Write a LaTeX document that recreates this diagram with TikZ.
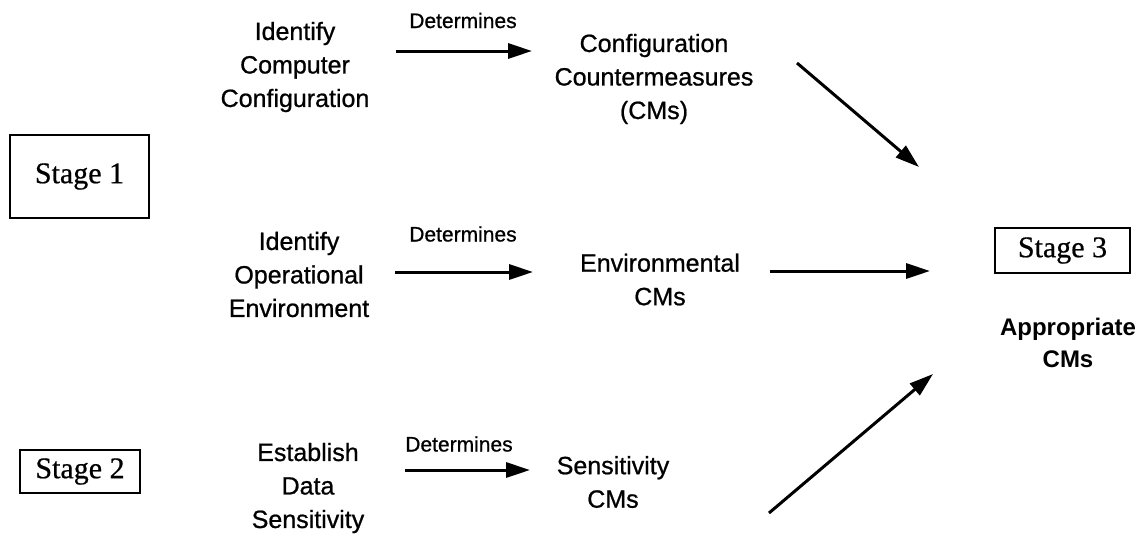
\documentclass[tikz,border=0pt]{standalone}
\usepackage{fontspec}
\setmainfont{Liberation Sans}
\newfontfamily\lblfont[FakeBold=0.8]{Liberation Sans}
\newfontfamily\stagefont[FakeBold=0.6]{Liberation Serif}
\usetikzlibrary{arrows.meta}

\begin{document}
\begin{tikzpicture}[x=1pt,y=-1pt,
  label/.style={align=center,inner sep=0pt,font=\lblfont\fontsize{25}{33.5}\selectfont},
  verb/.style={inner sep=0pt,font=\lblfont\fontsize{21}{25}\selectfont},
  stagebox/.style={draw,line width=2pt,inner sep=0pt,font=\stagefont\fontsize{30}{36}\selectfont},
  arr/.style={line width=3pt,-{Triangle[length=24pt,width=15pt]}}]

\useasboundingbox (0,0) rectangle (1145,533);

% stage boxes
\node[stagebox,minimum width=139pt,minimum height=83pt] (s1) at (79.5,176.5) {Stage 1};
\node[stagebox,minimum width=120pt,minimum height=43pt] (s2) at (80,471.5) {Stage 2};
\node[stagebox,minimum width=135pt,minimum height=45pt] (s3) at (1062.5,250.5) {Stage 3};

% activities
\node[label] (icc) at (295,67) {Identify\\Computer\\Configuration};
\node[label] (ioe) at (299,274.5) {Identify\\Operational\\Environment};
\node[label] (eds) at (308,488) {Establish\\Data\\Sensitivity};

% resulting countermeasures
\node[label] (ccm) at (654,79) {Configuration\\Countermeasures\\(CMs)};
\node[label] (ecm) at (660,279.5) {Environmental\\CMs};
\node[label] (scm) at (613,482) {Sensitivity\\CMs};
\node[label,font=\bfseries\fontsize{24}{32}\selectfont] (acm) at (1068,343) {Appropriate\\CMs};

% "Determines" relations
\node[verb] (v1) at (463,20.5) {Determines};
\node[verb] (v2) at (463,234) {Determines};
\node[verb] (v3) at (459,444) {Determines};

\coordinate (d1s) at (396,51);  \coordinate (d1e) at (532,51);
\coordinate (d2s) at (395,272); \coordinate (d2e) at (533,272);
\coordinate (d3s) at (405,470); \coordinate (d3e) at (530,470);
\draw[arr] (d1s) -- (d1e);
\draw[arr] (d2s) -- (d2e);
\draw[arr] (d3s) -- (d3e);

% converging arrows
\coordinate (t1s) at (797,63);  \coordinate (t1e) at (919,167);
\coordinate (t2s) at (770,271); \coordinate (t2e) at (930,271);
\coordinate (t3s) at (769,513); \coordinate (t3e) at (933,374);
\draw[arr] (t1s) -- (t1e);
\draw[arr] (t2s) -- (t2e);
\draw[arr] (t3s) -- (t3e);
\end{tikzpicture}
\end{document}
